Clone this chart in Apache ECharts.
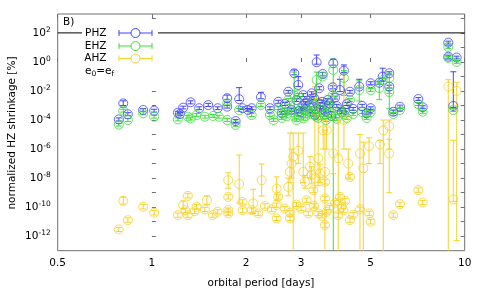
<!DOCTYPE html>
<html><head><meta charset="utf-8">
<script src="https://cdn.jsdelivr.net/npm/echarts@6/dist/echarts.min.js"></script>
<style>html,body{margin:0;padding:0;background:#fff}#c{width:485px;height:291px}</style>
</head><body><div id="c"></div>
<script>
// ---- axis settings / tick labels ----
const xMin = 0.5, xMax = 10;
const yMin = 1e-13, yMax = 2000;
const xTicks = [0.5, 1, 2, 3, 5, 10];
const yLabelExps = [-12, -10, -8, -6, -4, -2, 0, 2];
const yTickExps = [-12, -11, -10, -9, -8, -7, -6, -5, -4, -3, -2, -1, 0, 1, 2, 3];
const e0efLevel = 100;
const legendNames = ['PHZ', 'EHZ', 'AHZ'];

// ---- data: [period (days), shrinkage (%), lower err bound, upper err bound] ----
const phz = [
  [0.784, 1.1e-4, 8.5e-5, 1.4e-4], [0.81, 1.4e-3, 1.0e-3, 2.1e-3], [0.838, 2.5e-4, 2.0e-4, 3.2e-4],
  [0.938, 4.9e-4, 4.0e-4, 6.2e-4], [1.017, 4.4e-4, 3.5e-4, 5.5e-4], [1.211, 3.2e-4, 2.6e-4, 4.0e-4],
  [1.23, 2.6e-4, 2.1e-4, 3.2e-4], [1.259, 7.1e-4, 5.8e-4, 8.9e-4], [1.33, 1.66e-3, 1.3e-3, 2.1e-3],
  [1.417, 6.5e-4, 5.2e-4, 8.1e-4], [1.514, 1.07e-3, 8.5e-4, 1.4e-3], [1.623, 6.5e-4, 5.2e-4, 8.1e-4],
  [1.741, 3.2e-3, 2.5e-3, 5.2e-3], [1.741, 8.3e-4, 6.6e-4, 1.0e-3], [1.852, 8.5e-5, 6.8e-5, 1.1e-4],
  [1.902, 2.7e-3, 2.2e-3, 1.7e-2], [1.95, 6.5e-4, 5.2e-4, 8.1e-4], [2.028, 4.9e-4, 4.0e-4, 6.2e-4],
  [2.084, 6.5e-4, 5.2e-4, 8.1e-4], [2.232, 3.7e-3, 2.9e-3, 8.1e-3], [2.384, 6.5e-4, 5.2e-4, 8.1e-4],
  [2.535, 1.8e-3, 1.4e-3, 2.3e-3], [2.6, 3.0e-4, 2.4e-4, 3.8e-4], [2.663, 1.26e-3, 1.0e-3, 1.6e-3],
  [2.729, 8.9e-3, 7.0e-3, 1.1e-2], [2.798, 4.9e-4, 3.9e-4, 6.2e-4], [2.852, 0.166, 0.13, 0.28],
  [2.9, 2.4e-3, 1.9e-3, 3.0e-3], [2.937, 2.6e-2, 2.0e-2, 9.8e-2], [3.0, 3.5e-4, 2.8e-4, 4.4e-4],
  [3.047, 5.2e-3, 4.1e-3, 6.6e-3], [3.1, 1.4e-3, 1.1e-3, 1.8e-3], [3.2, 6.8e-4, 5.4e-4, 8.6e-4],
  [3.241, 6.9e-3, 5.5e-3, 8.7e-3], [3.3, 3.3e-3, 2.6e-3, 4.2e-3], [3.32, 2.3e-4, 1.8e-4, 2.9e-4],
  [3.363, 0.95, 0.7, 3.0], [3.428, 1.55e-2, 1.2e-2, 2.0e-2], [3.45, 1.26e-3, 1.0e-3, 1.6e-3],
  [3.515, 0.148, 0.11, 0.19], [3.55, 4.9e-4, 3.9e-4, 6.2e-4], [3.65, 2.4e-3, 1.9e-3, 3.0e-3],
  [3.75, 1.9e-4, 1.5e-4, 2.4e-4], [3.784, 1.8e-2, 1.4e-2, 2.3e-2], [3.801, 0.81, 0.6, 1.5],
  [3.9, 9.3e-4, 7.4e-4, 1.2e-3], [3.993, 1.17e-2, 9.0e-3, 6.4e-2], [4.05, 3.5e-4, 2.8e-4, 4.4e-4],
  [4.111, 0.25, 0.19, 0.62], [4.2, 1.26e-3, 1.0e-3, 1.6e-3], [4.297, 8.9e-3, 7.0e-3, 1.1e-2],
  [4.4, 5.8e-4, 4.6e-4, 7.3e-4], [4.602, 2.0e-2, 1.6e-2, 6.4e-2], [4.7, 9.3e-4, 7.4e-4, 1.2e-3],
  [4.86, 2.9e-4, 2.3e-4, 3.6e-4], [5.005, 3.4e-2, 2.7e-2, 4.3e-2], [5.005, 6.5e-4, 5.2e-4, 8.1e-4],
  [5.333, 3.7e-2, 2.9e-2, 4.7e-2], [5.468, 9.8e-2, 7.7e-2, 0.37], [5.74, 0.166, 0.13, 0.21],
  [5.74, 2.0e-2, 1.6e-2, 2.5e-2], [5.912, 3.7e-4, 2.9e-4, 4.7e-4], [6.21, 8.3e-4, 6.6e-4, 1.05e-3],
  [7.107, 2.8e-3, 2.2e-3, 3.5e-3], [7.341, 7.6e-4, 6.0e-4, 9.6e-4], [8.862, 21.4, 17, 27],
  [8.862, 2.3, 1.8, 2.9], [9.195, 9.3e-4, 7.4e-4, 0.21], [9.428, 2.0, 1.6, 2.5],
  [2.95, 4.0e-4, 3.2e-4, 5.0e-4], [3.05, 1.0e-3, 8.0e-4, 1.26e-3], [3.15, 2.2e-3, 1.75e-3, 2.8e-3],
  [3.35, 6.0e-4, 4.8e-4, 7.6e-4], [3.5, 1.8e-3, 1.4e-3, 2.3e-3], [3.6, 4.0e-4, 3.2e-4, 5.0e-4],
  [3.7, 1.4e-3, 1.1e-3, 1.8e-3], [3.85, 3.5e-3, 2.8e-3, 4.4e-3], [4.15, 5.0e-4, 4.0e-4, 6.3e-4]
];
const ehz = [
  [0.784, 4.8e-5, 3.8e-5, 6.0e-5], [0.81, 4.4e-4, 3.5e-4, 5.5e-4], [0.838, 1.0e-4, 8.0e-5, 1.26e-4],
  [0.938, 2.9e-4, 2.3e-4, 3.6e-4], [1.017, 1.7e-4, 1.35e-4, 2.1e-4], [1.211, 1.1e-4, 8.7e-5, 1.4e-4],
  [1.303, 1.7e-4, 1.35e-4, 2.1e-4], [1.33, 1.3e-4, 1.0e-4, 1.6e-4], [1.39, 2.2e-4, 1.75e-4, 2.8e-4],
  [1.477, 1.7e-4, 1.35e-4, 2.1e-4], [1.567, 1.9e-4, 1.5e-4, 2.4e-4], [1.638, 1.7e-4, 1.35e-4, 2.1e-4],
  [1.741, 1.0e-4, 8.0e-5, 1.26e-4], [1.741, 1.4e-3, 1.1e-3, 1.8e-3], [1.852, 4.6e-5, 3.7e-5, 5.8e-5],
  [1.902, 4.9e-4, 3.9e-4, 6.2e-4], [2.084, 2.2e-4, 1.75e-4, 2.8e-4], [2.232, 1.07e-3, 8.5e-4, 1.35e-3],
  [2.384, 2.2e-4, 1.75e-4, 2.8e-4], [2.45, 1.0e-4, 8.0e-5, 1.26e-4], [2.535, 6.5e-4, 5.2e-4, 8.1e-4],
  [2.6, 1.4e-4, 1.1e-4, 1.8e-4], [2.663, 3.5e-4, 2.8e-4, 4.4e-4], [2.729, 2.4e-3, 1.9e-3, 3.0e-3],
  [2.8, 3.5e-4, 2.8e-4, 4.4e-4], [2.852, 5.2e-3, 1.0e-4, 0.2], [2.9, 1.0e-4, 8.0e-5, 1.26e-4],
  [2.937, 5.2e-3, 4.1e-3, 6.6e-3], [3.0, 6.8e-4, 5.4e-4, 8.6e-4], [3.047, 4.9e-4, 3.9e-4, 6.2e-4],
  [3.1, 1.8e-4, 1.4e-4, 2.3e-4], [3.2, 3.5e-4, 2.8e-4, 4.4e-4], [3.241, 1.7e-3, 1.35e-3, 2.1e-3],
  [3.3, 1.07e-3, 8.5e-4, 1.35e-3], [3.363, 5.7e-2, 2.4e-3, 0.2], [3.4, 1.4e-4, 1.1e-4, 1.8e-4],
  [3.5, 4.9e-4, 3.9e-4, 6.2e-4], [3.515, 9.8e-2, 7.8e-2, 0.12], [3.6, 1.0e-4, 8.0e-5, 1.26e-4],
  [3.7, 9.3e-4, 7.4e-4, 1.2e-3], [3.784, 5.2e-3, 4.1e-3, 6.6e-3], [3.801, 0.28, 1e-14, 1.6],
  [3.85, 1.8e-4, 1.4e-4, 2.3e-4], [4.0, 4.9e-4, 3.9e-4, 6.2e-4], [4.111, 7.9e-2, 5.0e-3, 0.25],
  [4.2, 1.4e-4, 1.1e-4, 1.8e-4], [4.297, 2.4e-3, 1.9e-3, 3.0e-3], [4.4, 2.6e-4, 2.1e-4, 3.3e-4],
  [4.602, 1.17e-2, 2.0e-3, 5.0e-2], [4.7, 3.5e-4, 2.8e-4, 4.4e-4], [4.86, 1.4e-4, 1.1e-4, 1.8e-4],
  [5.005, 1.17e-2, 9.3e-3, 1.5e-2], [5.005, 3.5e-4, 2.8e-4, 4.4e-4], [5.333, 1.6e-2, 2.5e-3, 4.0e-2],
  [5.468, 5.7e-2, 4.5e-2, 7.2e-2], [5.74, 7.9e-2, 6.0e-4, 0.17], [5.74, 8.5e-3, 6.8e-3, 1.07e-2],
  [5.912, 2.6e-4, 2.1e-4, 3.3e-4], [6.21, 4.9e-4, 3.9e-4, 6.2e-4], [7.107, 1.26e-3, 1.0e-3, 1.6e-3],
  [7.341, 3.7e-4, 2.9e-4, 4.7e-4], [8.862, 10.8, 8.6, 13.6], [8.862, 1.9, 1.5, 2.4],
  [9.195, 4.9e-4, 3.9e-4, 6.2e-4], [9.428, 1.0, 0.8, 1.26],
  [2.95, 2.2e-4, 1.75e-4, 2.8e-4], [3.05, 1.3e-4, 1.0e-4, 1.6e-4], [3.15, 4.5e-4, 3.6e-4, 5.7e-4],
  [3.25, 2.5e-4, 2.0e-4, 3.2e-4], [3.35, 1.7e-4, 1.35e-4, 2.1e-4], [3.45, 7.0e-4, 5.6e-4, 8.8e-4],
  [3.55, 2.2e-4, 1.75e-4, 2.8e-4], [3.65, 1.4e-3, 1.1e-3, 1.8e-3], [3.75, 3.0e-4, 2.4e-4, 3.8e-4],
  [3.9, 1.2e-4, 9.5e-5, 1.5e-4], [4.1, 2.6e-4, 2.1e-4, 3.3e-4], [2.7, 1.8e-4, 1.4e-4, 2.3e-4],
  [2.75, 6.0e-4, 4.8e-4, 7.6e-4]
];
const ahz = [
  [0.784, 2.9e-12, 2.1e-12, 4.0e-12], [0.81, 2.7e-10, 1.6e-10, 4.9e-10], [0.838, 1.26e-11, 9.0e-12, 1.8e-11],
  [0.938, 1.05e-10, 7.5e-11, 1.5e-10], [1.017, 4.1e-11, 2.9e-11, 5.7e-11], [1.211, 2.8e-11, 2.0e-11, 3.9e-11],
  [1.259, 1.38e-10, 8.0e-11, 2.6e-10], [1.303, 6.0e-10, 4.3e-10, 8.4e-10], [1.28, 6.2e-11, 4.4e-11, 8.7e-11],
  [1.303, 2.8e-11, 2.0e-11, 3.9e-11], [1.39, 1.05e-10, 7.5e-11, 1.5e-10], [1.37, 5.2e-11, 3.7e-11, 7.3e-11],
  [1.477, 6.9e-11, 4.9e-11, 9.7e-11], [1.5, 3.0e-10, 1.5e-10, 6.0e-10], [1.567, 2.8e-11, 2.0e-11, 3.9e-11],
  [1.623, 4.8e-11, 3.4e-11, 6.7e-11], [1.754, 7.2e-9, 2.0e-9, 2.3e-8], [1.754, 5.1e-10, 3.6e-10, 7.1e-10],
  [1.754, 6.2e-11, 4.4e-11, 8.7e-11], [1.754, 3.7e-11, 2.6e-11, 5.2e-11], [1.902, 3.9e-9, 1.9e-10, 3.9e-7],
  [1.95, 2.3e-10, 1.6e-10, 3.2e-10], [1.95, 6.2e-11, 4.4e-11, 8.7e-11], [2.108, 1.8e-10, 3.7e-11, 1.7e-9],
  [2.084, 6.2e-11, 4.4e-11, 8.7e-11], [2.188, 3.7e-11, 2.6e-11, 5.2e-11], [2.243, 7.2e-9, 5.8e-10, 9.3e-8],
  [2.298, 1.2e-10, 8.5e-11, 1.7e-10], [2.415, 6.9e-11, 4.9e-11, 9.7e-11], [2.505, 1.9e-9, 3.0e-10, 1.2e-8],
  [2.505, 1.38e-10, 9.8e-11, 1.9e-10], [2.535, 5.1e-10, 3.6e-10, 7.1e-10], [2.505, 1.66e-11, 1.2e-11, 2.3e-11],
  [2.663, 8.1e-11, 5.7e-11, 1.1e-10], [2.729, 2.5e-9, 6.0e-10, 1.0e-8], [2.763, 2.7e-8, 5.0e-9, 1.26e-5],
  [2.83, 2.95e-7, 1e-14, 1.26e-5], [2.798, 1.0e-7, 1.0e-8, 1.0e-6], [2.763, 1.66e-11, 1.2e-11, 2.3e-11],
  [2.763, 4.1e-11, 2.9e-11, 5.7e-11], [2.937, 7.6e-7, 1.0e-7, 1.26e-5], [3.047, 2.7e-8, 5.0e-9, 1.26e-5],
  [3.086, 5.5e-9, 2.0e-9, 1.5e-8], [3.124, 3.0e-10, 2.1e-10, 4.2e-10], [3.161, 3.7e-11, 2.6e-11, 5.2e-11],
  [3.201, 6.0e-8, 1.0e-8, 3.0e-7], [3.32, 1.0e-8, 1.0e-10, 1.9e-2], [3.241, 1.6e-8, 4.0e-9, 6.0e-8],
  [3.28, 1.48e-9, 1.0e-9, 2.1e-9], [3.402, 2.3e-7, 3.0e-9, 3.0e-3], [3.402, 3.7e-11, 2.6e-11, 5.2e-11],
  [3.446, 2.1e-8, 5.0e-9, 9.0e-8], [3.575, 2.7e-8, 1e-14, 2.0e-5], [3.575, 5.5e-9, 3.9e-9, 7.7e-9],
  [3.575, 4.0e-10, 2.8e-10, 5.6e-10], [3.575, 5.8e-12, 4.1e-12, 8.1e-12], [3.62, 4.8e-11, 3.4e-11, 6.7e-11],
  [3.801, 5.0e-7, 2.0e-8, 3.5e-2], [3.943, 2.3e-7, 1e-14, 1.0e-4], [3.943, 2.8e-11, 2.0e-11, 3.9e-11],
  [4.043, 1.05e-10, 7.5e-11, 1.5e-10], [3.993, 5.1e-10, 3.6e-10, 7.1e-10], [4.142, 2.7e-10, 1.9e-10, 3.8e-10],
  [4.244, 1.0e-7, 1.0e-8, 1.0e-6], [4.297, 1.2e-8, 8.5e-9, 1.7e-8], [4.297, 1.26e-11, 9.0e-12, 1.8e-11],
  [4.626, 5.0e-7, 1e-14, 1.0e-5], [4.626, 7.2e-11, 5.1e-11, 1.0e-10], [4.74, 4.7e-8, 1e-14, 3.0e-6],
  [4.943, 1.6e-6, 1.0e-7, 6.0e-6], [5.005, 9.8e-12, 7.0e-12, 1.4e-11], [4.954, 3.7e-11, 2.6e-11, 5.2e-11],
  [5.36, 2.1e-6, 1.0e-7, 4.0e-6], [5.74, 5.0e-7, 9.8e-10, 4.7e-6], [5.912, 2.8e-11, 2.0e-11, 3.9e-11],
  [6.21, 1.6e-10, 1.1e-10, 2.2e-10], [7.107, 1.48e-9, 1.05e-9, 2.1e-9], [7.341, 2.1e-10, 1.5e-10, 2.9e-10],
  [9.195, 3.4e-10, 2.4e-10, 4.0e-6], [8.862, 2.0e-2, 1e-14, 6.0e-2], [9.428, 1.0e-2, 5.0e-13, 4.0e-2],
  [4.111, 1.0e-4, 1.0e-6, 0.15], [5.492, 2.0e-5, 1e-14, 1.0e-4], [5.74, 3.8e-5, 1.0e-6, 1.0e-4],
  [3.53, 2.0e-5, 1.0e-6, 1.0e-4], [3.62, 2.0e-5, 1.0e-6, 1.0e-4],
  [3.0, 8.0e-11, 5.7e-11, 1.1e-10], [3.3, 1.2e-10, 8.5e-11, 1.7e-10], [3.5, 2.5e-11, 1.8e-11, 3.5e-11],
  [3.7, 9.0e-11, 6.4e-11, 1.3e-10], [3.85, 2.0e-10, 1.4e-10, 2.8e-10], [4.1, 6.0e-11, 4.3e-11, 8.4e-11],
  [4.4, 3.0e-11, 2.1e-11, 4.2e-11], [2.9, 1.5e-10, 1.1e-10, 2.1e-10]
];

const COL = { PHZ: '#4141ff', EHZ: '#3ddc3d', AHZ: '#f7d12a' };
const FONT = 'DejaVu Sans';
const FS = 10.5;
const AX = '#707070';

function errSeries(name, data, color) {
  return {
    type: 'custom', name: name + ' err', xAxisIndex: 0, yAxisIndex: 0, clip: true, silent: true,
    data: data.map(d => [d[0], d[2], d[3]]),
    encode: { x: 0, y: [1, 2] },
    renderItem: (params, api) => {
      const x = api.value(0);
      const lo = api.coord([x, api.value(1)]);
      const hi = api.coord([x, api.value(2)]);
      const w = 3;
      const style = { stroke: color, lineWidth: 1, fill: null };
      return { type: 'group', children: [
        { type: 'line', shape: { x1: lo[0], y1: lo[1], x2: hi[0], y2: hi[1] }, style },
        { type: 'line', shape: { x1: lo[0] - w, y1: lo[1], x2: lo[0] + w, y2: lo[1] }, style },
        { type: 'line', shape: { x1: hi[0] - w, y1: hi[1], x2: hi[0] + w, y2: hi[1] }, style }
      ]};
    }
  };
}
function ptSeries(name, data, color) {
  return {
    type: 'scatter', name, xAxisIndex: 0, yAxisIndex: 0, symbol: 'circle', symbolSize: 9, silent: true,
    itemStyle: { color: 'rgba(0,0,0,0)', borderColor: color, borderWidth: 1 },
    data: data.map(d => [d[0], d[1]])
  };
}

const lxMin = Math.log10(xMin), lxMax = Math.log10(xMax);
const lyMin = Math.log10(yMin), lyMax = Math.log10(yMax);
const xTickL = xTicks.map(Math.log10);
function xLabel(v) { const t = xTicks.find(t => Math.abs(Math.log10(t) - v) < 1e-6); return t === undefined ? '' : String(t); }

const tickStyle = { color: AX, width: 1 };
const chart = echarts.init(document.getElementById('c'), null, { renderer: 'canvas' });

function legendSample(y, color) {
  const s = { stroke: color, lineWidth: 1, fill: null };
  return [
    { type: 'line', z: 101, shape: { x1: 119, y1: y, x2: 152, y2: y }, style: s },
    { type: 'line', z: 101, shape: { x1: 119, y1: y - 3, x2: 119, y2: y + 3 }, style: s },
    { type: 'line', z: 101, shape: { x1: 152, y1: y - 3, x2: 152, y2: y + 3 }, style: s },
    { type: 'circle', z: 102, shape: { cx: 135.5, cy: y, r: 4.5 }, style: { stroke: color, lineWidth: 1, fill: '#fff' } }
  ];
}
const legendY = [33, 46, 58.5];
const legendCols = [COL.PHZ, COL.EHZ, COL.AHZ];
let graphics = [
  { type: 'rect', z: 100, shape: { x: 82, y: 25, width: 76, height: 54 }, style: { fill: '#fff' } },
  { type: 'text', z: 101, x: 63, y: 22.5, style: { text: 'B)', font: `${FS}px "${FONT}"`, fill: '#000', textAlign: 'left', textVerticalAlign: 'middle' } },
  { type: 'text', z: 101, x: 12, y: 133, rotation: Math.PI / 2, style: { text: 'normalized HZ shrinkage [%]', font: `${FS}px "${FONT}"`, fill: '#000', textAlign: 'center', textVerticalAlign: 'middle' } },
  { type: 'text', z: 101, x: 261, y: 283, style: { text: 'orbital period [days]', font: `${FS}px "${FONT}"`, fill: '#000', textAlign: 'center', textVerticalAlign: 'middle' } },
  { type: 'text', z: 101, x: 85, y: 71, style: {
      text: '{n|e}{s|0}{n|=e}{s|f}', textVerticalAlign: 'middle', textAlign: 'left',
      rich: { n: { fontSize: FS, fontFamily: FONT, fill: '#000', lineHeight: 14 },
              s: { fontSize: 7.5, fontFamily: FONT, fill: '#000', verticalAlign: 'bottom', lineHeight: 9 } } } }
];
legendNames.forEach((n, i) => {
  graphics.push({ type: 'text', z: 101, x: 106.5, y: legendY[i], style: { text: n, font: `${FS}px "${FONT}"`, fill: '#000', textAlign: 'right', textVerticalAlign: 'middle' } });
  graphics = graphics.concat(legendSample(legendY[i], legendCols[i]));
});

const option = {
  animation: false,
  backgroundColor: '#fff',
  grid: { left: 57.7, right: 20.3, top: 14, bottom: 40.3, show: true, borderColor: AX, borderWidth: 1, backgroundColor: 'transparent' },
  xAxis: [
    { type: 'log', logBase: 10, min: xMin, max: xMax, axisLine: { show: false }, axisTick: { show: false }, axisLabel: { show: false }, splitLine: { show: false } },
    { type: 'value', min: lxMin, max: lxMax, position: 'bottom', axisLine: { show: false }, splitLine: { show: false },
      axisTick: { show: true, inside: true, length: 4, customValues: xTickL, lineStyle: tickStyle },
      axisLabel: { customValues: xTickL, formatter: v => xLabel(v), fontFamily: FONT, fontSize: FS, color: '#000', margin: 7 } },
    { type: 'value', min: lxMin, max: lxMax, position: 'top', axisLine: { show: false }, splitLine: { show: false },
      axisTick: { show: true, inside: true, length: 4, customValues: xTickL, lineStyle: tickStyle },
      axisLabel: { show: false } }
  ],
  yAxis: [
    { type: 'log', logBase: 10, min: yMin, max: yMax, axisLine: { show: false }, axisTick: { show: false }, axisLabel: { show: false }, splitLine: { show: false } },
    { type: 'value', min: lyMin, max: lyMax, position: 'left', axisLine: { show: false }, splitLine: { show: false },
      axisTick: { show: true, inside: true, length: 4, customValues: yTickExps, lineStyle: tickStyle },
      axisLabel: { customValues: yLabelExps, margin: 7, formatter: v => '{b|10}{s|' + v + '}',
        rich: { b: { fontFamily: FONT, fontSize: FS, color: '#000', lineHeight: 14 },
                s: { fontFamily: FONT, fontSize: 7.5, color: '#000', verticalAlign: 'top', lineHeight: 9 } } } },
    { type: 'value', min: lyMin, max: lyMax, position: 'right', axisLine: { show: false }, splitLine: { show: false },
      axisTick: { show: true, inside: true, length: 4, customValues: yTickExps, lineStyle: tickStyle },
      axisLabel: { show: false } }
  ],
  series: [
    { type: 'line', name: 'e0=ef', xAxisIndex: 0, yAxisIndex: 0, symbol: 'none', silent: true,
      lineStyle: { color: '#000', width: 1 }, data: [[xMin, e0efLevel], [xMax, e0efLevel]] },
    errSeries('PHZ', phz, COL.PHZ), ptSeries('PHZ', phz, COL.PHZ),
    errSeries('EHZ', ehz, COL.EHZ), ptSeries('EHZ', ehz, COL.EHZ),
    errSeries('AHZ', ahz, COL.AHZ), ptSeries('AHZ', ahz, COL.AHZ)
  ],
  graphic: { elements: graphics }
};
chart.setOption(option);
</script></body></html>
